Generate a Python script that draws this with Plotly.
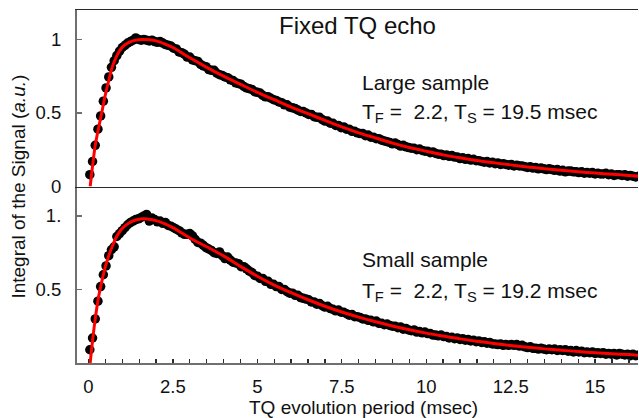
import plotly.graph_objects as go

# ---------------- data ----------------
T0 = 0.04   # first sampled evolution period (msec)
DT = 0.08   # sampling step (msec)

top_dots = [
    0.08, 0.17, 0.28, 0.39, 0.48, 0.58, 0.67, 0.745, 0.81, 0.855,
    0.89, 0.92, 0.945, 0.96, 0.975, 0.985, 0.995, 1.01, 1.0, 0.995,
    1.0, 0.995, 0.99, 0.995, 0.985, 0.98, 0.985, 0.975, 0.965, 0.96,
    0.955, 0.94, 0.935, 0.915, 0.91, 0.9, 0.88, 0.88, 0.86, 0.855,
    0.85, 0.83, 0.82, 0.815, 0.795, 0.79, 0.79, 0.77, 0.76, 0.755,
    0.745, 0.74, 0.725, 0.72, 0.705, 0.70, 0.695, 0.68, 0.67, 0.665,
    0.66, 0.645, 0.64, 0.635, 0.62, 0.61, 0.61, 0.6, 0.59, 0.585,
    0.575, 0.57, 0.555, 0.555, 0.54, 0.535, 0.53, 0.52, 0.51, 0.51,
    0.5, 0.49, 0.49, 0.475, 0.47, 0.47, 0.455, 0.445, 0.445, 0.43,
    0.43, 0.415, 0.415, 0.4, 0.405, 0.39, 0.39, 0.375, 0.375, 0.365,
    0.36, 0.36, 0.345, 0.35, 0.335, 0.335, 0.325, 0.325, 0.315, 0.31,
    0.305, 0.3, 0.29, 0.295, 0.285, 0.275, 0.28, 0.27, 0.265, 0.26,
    0.26, 0.25, 0.255, 0.245, 0.24, 0.24, 0.23, 0.235, 0.225, 0.22,
    0.22, 0.21, 0.215, 0.205, 0.21, 0.2, 0.2, 0.19, 0.195, 0.185,
    0.19, 0.18, 0.185, 0.175, 0.175, 0.17, 0.165, 0.17, 0.16, 0.165,
    0.155, 0.16, 0.15, 0.155, 0.15, 0.145, 0.15, 0.14, 0.145, 0.14,
    0.14, 0.135, 0.13, 0.135, 0.125, 0.13, 0.12, 0.125, 0.12, 0.115,
    0.12, 0.115, 0.11, 0.115, 0.105, 0.11, 0.1, 0.105, 0.105, 0.1,
    0.1, 0.095, 0.1, 0.09, 0.095, 0.09, 0.095, 0.085, 0.09, 0.085,
    0.085, 0.09, 0.08, 0.085, 0.075, 0.08, 0.08, 0.075, 0.08, 0.07,
    0.075, 0.07, 0.065, 0.07,
]

bot_dots = [
    0.09, 0.17, 0.30, 0.42, 0.52, 0.60, 0.66, 0.73, 0.77, 0.79,
    0.86, 0.88, 0.90, 0.92, 0.94, 0.955, 0.965, 0.975, 0.98, 0.99,
    1.0, 1.01, 0.965, 0.985, 0.975, 0.96, 0.965, 0.95, 0.955, 0.935,
    0.93, 0.92, 0.91, 0.9, 0.885, 0.875, 0.875, 0.88, 0.865, 0.84,
    0.82, 0.815, 0.8, 0.785, 0.775, 0.765, 0.75, 0.745, 0.755, 0.73,
    0.71, 0.72, 0.7, 0.685, 0.68, 0.675, 0.655, 0.655, 0.64, 0.625,
    0.615, 0.595, 0.59, 0.575, 0.575, 0.555, 0.555, 0.535, 0.535, 0.52,
    0.52, 0.5, 0.5, 0.485, 0.475, 0.475, 0.46, 0.46, 0.445, 0.44,
    0.435, 0.43, 0.415, 0.415, 0.4, 0.405, 0.39, 0.38, 0.385, 0.37,
    0.365, 0.355, 0.36, 0.345, 0.345, 0.335, 0.325, 0.33, 0.315, 0.315,
    0.31, 0.3, 0.3, 0.29, 0.29, 0.28, 0.285, 0.27, 0.27, 0.26,
    0.265, 0.255, 0.25, 0.25, 0.24, 0.245, 0.23, 0.235, 0.225, 0.22,
    0.225, 0.21, 0.215, 0.205, 0.21, 0.2, 0.2, 0.19, 0.19, 0.185,
    0.19, 0.18, 0.18, 0.17, 0.175, 0.165, 0.17, 0.16, 0.165, 0.155,
    0.16, 0.15, 0.155, 0.145, 0.15, 0.14, 0.145, 0.135, 0.14, 0.13,
    0.13, 0.125, 0.13, 0.12, 0.125, 0.12, 0.125, 0.12, 0.125, 0.115,
    0.12, 0.11, 0.105, 0.11, 0.1, 0.1, 0.095, 0.1, 0.095, 0.09,
    0.095, 0.09, 0.095, 0.085, 0.09, 0.085, 0.09, 0.08, 0.085, 0.075,
    0.085, 0.075, 0.08, 0.07, 0.075, 0.07, 0.075, 0.065, 0.07, 0.065,
    0.07, 0.06, 0.065, 0.06, 0.065, 0.055, 0.065, 0.06, 0.055, 0.06,
    0.05, 0.06, 0.05, 0.055,
]

fit_t = [0.05, 0.1, 0.2, 0.3, 0.4, 0.5, 0.6, 0.7, 0.8, 0.9, 1.0, 1.2, 1.4,
         1.6, 1.8, 2.0, 2.25, 2.5, 2.75, 3.0, 3.5, 4.0, 4.5, 5.0, 5.5, 6.0,
         6.5, 7.0, 7.5, 8.0, 8.5, 9.0, 9.5, 10.0, 10.5, 11.0, 11.5, 12.0,
         12.5, 13.0, 13.5, 14.0, 14.5, 15.0, 15.5, 16.0, 16.3]
top_fit = [0.0, 0.10, 0.28, 0.40, 0.51, 0.625, 0.72, 0.81, 0.87, 0.915, 0.948,
           0.98, 0.995, 1.0, 0.997, 0.99, 0.97, 0.945, 0.91, 0.875, 0.81, 0.75,
           0.695, 0.64, 0.59, 0.54, 0.495, 0.45, 0.405, 0.365, 0.33, 0.295,
           0.265, 0.24, 0.215, 0.195, 0.177, 0.161, 0.147, 0.133, 0.121, 0.11,
           0.1, 0.091, 0.083, 0.075, 0.07]
bot_fit = [0.0, 0.11, 0.30, 0.45, 0.56, 0.655, 0.73, 0.79, 0.845, 0.885, 0.915,
           0.952, 0.972, 0.98, 0.978, 0.968, 0.948, 0.92, 0.885, 0.85, 0.79,
           0.728, 0.657, 0.59, 0.53, 0.478, 0.43, 0.386, 0.347, 0.312, 0.28,
           0.252, 0.226, 0.203, 0.183, 0.164, 0.148, 0.133, 0.119, 0.107,
           0.096, 0.087, 0.078, 0.07, 0.063, 0.057, 0.053]

x_tickvals = [0, 0.5, 1, 1.5, 2, 2.5, 3, 3.5, 4, 4.5, 5, 5.5, 6, 6.5, 7, 7.5,
              8, 8.5, 9, 9.5, 10, 10.5, 11, 11.5, 12, 12.5, 13, 13.5, 14,
              14.5, 15, 15.5, 16]
x_labels = {0: "0", 2.5: "2.5", 5: "5", 7.5: "7.5", 10: "10", 12.5: "12.5", 15: "15"}
top_yticks = [0, 0.5, 1]
top_ylabels = ["0", "0.5", "1"]
bot_yticks = [0.5, 1]
bot_ylabels = ["0.5", "1."]

# ---------------------------------------------------------------
top_t = [round(T0 + DT * i, 3) for i in range(len(top_dots))]
bot_t = [round(T0 + DT * i, 3) for i in range(len(bot_dots))]

FONT = "Liberation Sans, Arial, sans-serif"
AX_GRAY = "#6f6f6f"
DARK = "#2a2a2a"

fig = go.Figure()
dot_style = dict(mode="markers", marker=dict(color="black", size=9.5), showlegend=False,
                 hoverinfo="skip")
fit_style = dict(mode="lines", line=dict(color="#ff0000", width=3, shape="spline",
                                          smoothing=0.8), showlegend=False)

fig.add_trace(go.Scatter(x=top_t, y=top_dots, xaxis="x2", yaxis="y2", **dot_style))
fig.add_trace(go.Scatter(x=fit_t, y=top_fit, xaxis="x2", yaxis="y2", **fit_style))
fig.add_trace(go.Scatter(x=bot_t, y=bot_dots, xaxis="x", yaxis="y", **dot_style))
fig.add_trace(go.Scatter(x=fit_t, y=bot_fit, xaxis="x", yaxis="y", **fit_style))

XR = [-0.34, 16.27]
tick_font = dict(family=FONT, size=18.5, color="#111")

fig.update_layout(
    template="none",
    width=639, height=418,
    margin=dict(l=77, r=1, t=10, b=55, autoexpand=False),
    paper_bgcolor="white", plot_bgcolor="white",
    font=dict(family=FONT, color="#111"),
    xaxis=dict(domain=[0, 1], anchor="y", range=XR, automargin=False,
               tickmode="array", tickvals=x_tickvals,
               ticktext=[x_labels.get(v, "") for v in x_tickvals],
               ticks="inside", ticklen=4, tickwidth=1.3, tickcolor=DARK,
               showline=True, linecolor=AX_GRAY, linewidth=2,
               showgrid=False, zeroline=False, tickfont=tick_font,
               ticklabelstandoff=6),
    xaxis2=dict(domain=[0, 1], anchor="y2", matches="x", range=XR, automargin=False,
                showticklabels=False, ticks="",
                showline=True, mirror=True, linecolor=DARK, linewidth=1.5,
                showgrid=False, zeroline=False),
    yaxis=dict(domain=[0, 0.5], anchor="x", range=[0, 1.2], automargin=False,
               tickmode="array", tickvals=bot_yticks, ticktext=bot_ylabels,
               ticks="inside", ticklen=5, tickwidth=1.3, tickcolor=AX_GRAY,
               showline=True, linecolor=AX_GRAY, linewidth=2,
               showgrid=False, zeroline=False, tickfont=tick_font,
               ticklabelstandoff=10),
    yaxis2=dict(domain=[0.5, 1], anchor="x2", range=[0, 1.2], automargin=False,
                tickmode="array", tickvals=top_yticks, ticktext=top_ylabels,
                ticks="inside", ticklen=5, tickwidth=1.3, tickcolor=AX_GRAY,
                showline=True, linecolor=AX_GRAY, linewidth=2,
                showgrid=False, zeroline=False, tickfont=tick_font,
                ticklabelstandoff=10),
)

NB = "\u00a0"
ann_font = dict(family=FONT, size=21, color="#111")
anns = [
    dict(text="Fixed TQ echo", x=0.3565, y=0.9575, xanchor="left", yanchor="middle",
         font=dict(family=FONT, size=24, color="#111")),
    dict(text="Large sample", x=0.5045, y=0.796, xanchor="left", yanchor="middle",
         font=ann_font),
    dict(text="T<sub>F</sub> =" + NB + NB + "2.2, T<sub>S</sub> = 19.5 msec",
         x=0.5045, y=0.708, xanchor="left", yanchor="middle", font=ann_font),
    dict(text="Small sample", x=0.5045, y=0.292, xanchor="left", yanchor="middle",
         font=ann_font),
    dict(text="T<sub>F</sub> =" + NB + NB + "2.2, T<sub>S</sub> = 19.2 msec",
         x=0.5045, y=0.201, xanchor="left", yanchor="middle", font=ann_font),
    dict(text="TQ evolution period (msec)", x=0.51, y=-0.127, xanchor="center",
         yanchor="middle", font=dict(family=FONT, size=19, color="#111")),
    dict(text="Integral of the Signal (<i>a.u.</i>)", x=-0.105, y=0.5,
         xanchor="center", yanchor="middle", textangle=-90,
         font=dict(family=FONT, size=19, color="#111")),
]
for a in anns:
    fig.add_annotation(xref="paper", yref="paper", showarrow=False, **a)

fig.write_html(
    "out.html",
    config={"displayModeBar": False, "staticPlot": True},
    post_script="document.body.style.margin='0';document.body.style.padding='0';",
)
